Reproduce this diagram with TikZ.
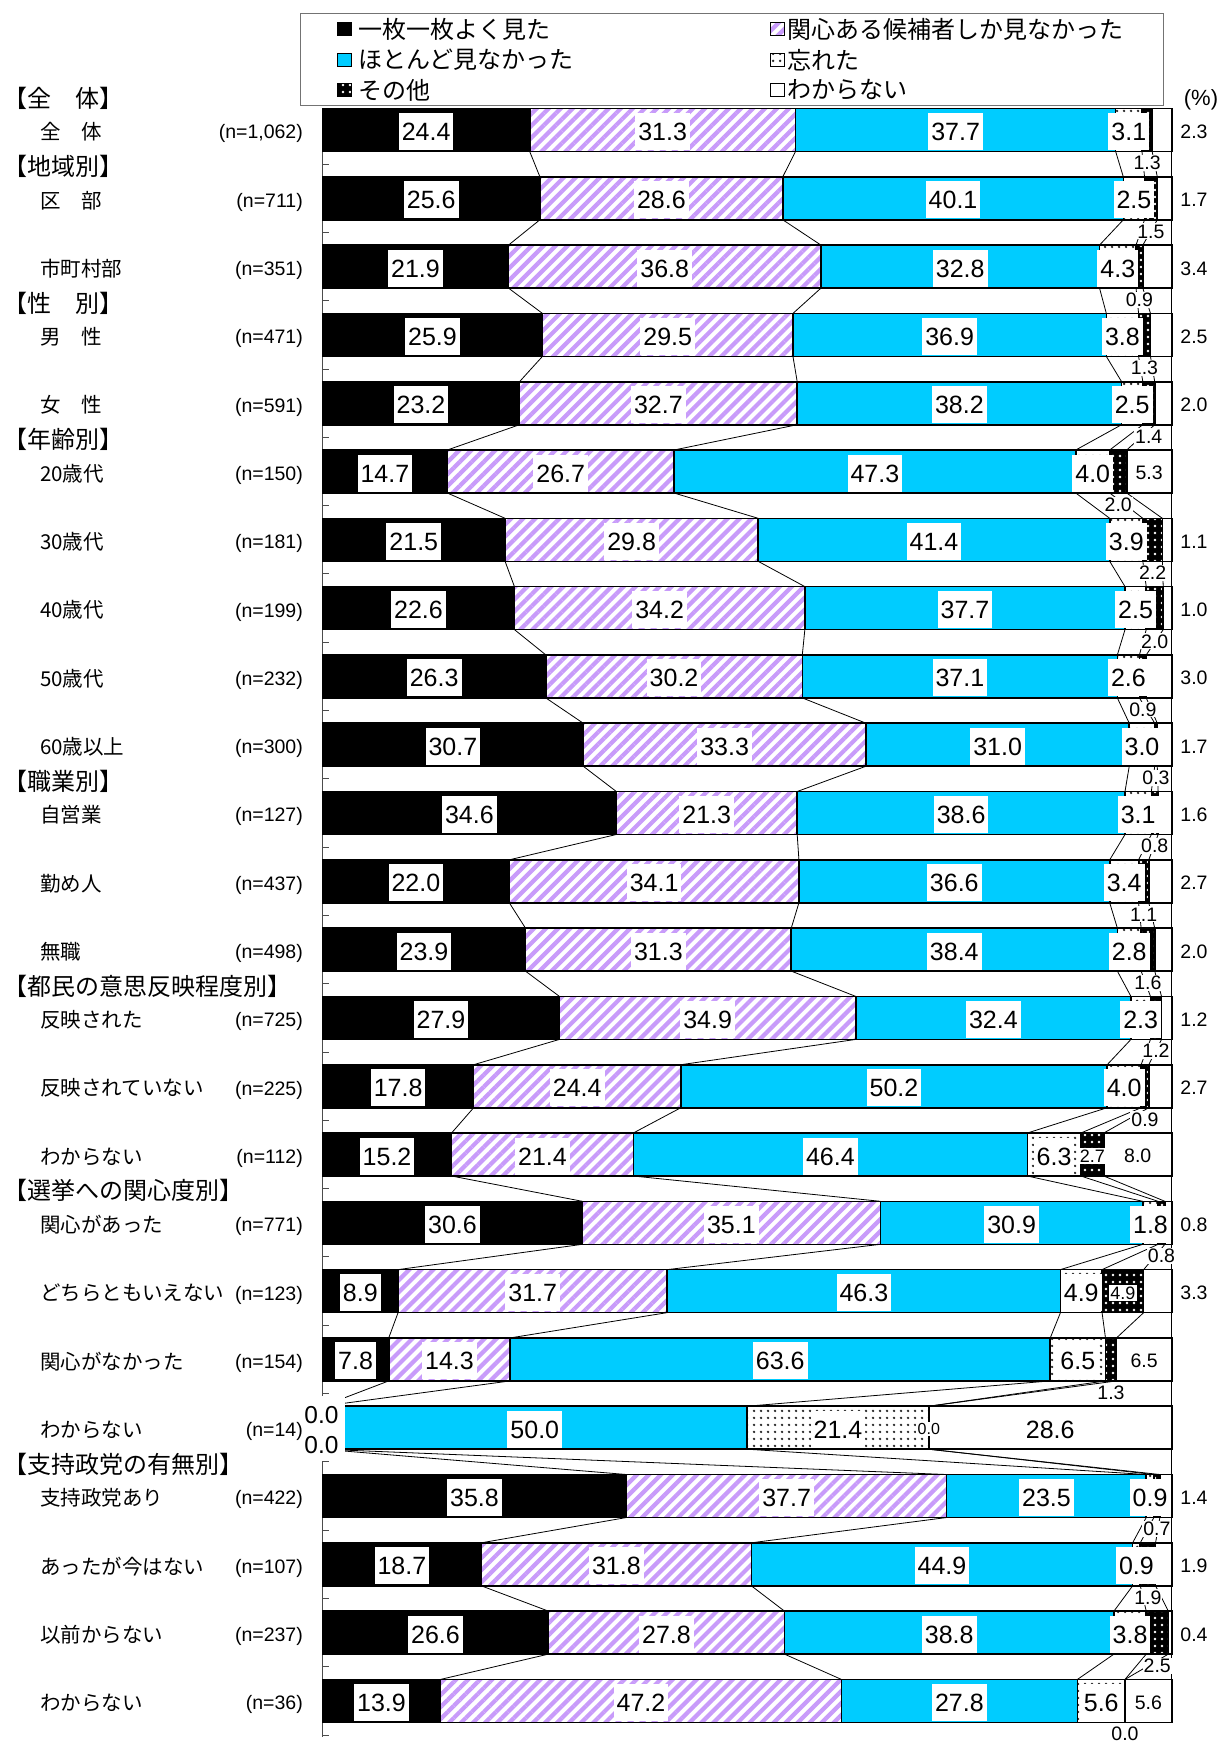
\documentclass[tikz,border=0pt]{standalone}
\usepackage{fontspec}
\setmainfont{Liberation Sans}
\newfontfamily\jp{Noto Sans CJK JP}
\usetikzlibrary{patterns.meta}
\definecolor{cyanbar}{HTML}{00CCFF}
\definecolor{stripe}{HTML}{C89BFA}
\def\chartdata{%
1/24.4/31.3/37.7/3.1/1.3/2.3/0/0,
2/25.6/28.6/40.1/2.5/1.5/1.7/0/0,
3/21.9/36.8/32.8/4.3/0.9/3.4/0/0,
4/25.9/29.5/36.9/3.8/1.3/2.5/0/0,
5/23.2/32.7/38.2/2.5/1.4/2.0/0/0,
6/14.7/26.7/47.3/4.0/2.0/5.3/0/1,
7/21.5/29.8/41.4/3.9/2.2/1.1/0/0,
8/22.6/34.2/37.7/2.5/2.0/1.0/0/0,
9/26.3/30.2/37.1/2.6/0.9/3.0/0/0,
10/30.7/33.3/31.0/3.0/0.3/1.7/0/0,
11/34.6/21.3/38.6/3.1/0.8/1.6/0/0,
12/22.0/34.1/36.6/3.4/1.1/2.7/0/0,
13/23.9/31.3/38.4/2.8/1.6/2.0/0/0,
14/27.9/34.9/32.4/2.3/1.2/1.2/0/0,
15/17.8/24.4/50.2/4.0/0.9/2.7/0/0,
16/15.2/21.4/46.4/6.3/2.7/8.0/1/1,
17/30.6/35.1/30.9/1.8/0.8/0.8/0/0,
18/8.9/31.7/46.3/4.9/4.9/3.3/1/0,
19/7.8/14.3/63.6/6.5/1.3/6.5/0/1,
20/0.0/0.0/50.0/21.4/0.0/28.6/2/2,
21/35.8/37.7/23.5/0.9/0.7/1.4/0/0,
22/18.7/31.8/44.9/0.9/1.9/1.9/0/0,
23/26.6/27.8/38.8/3.8/2.5/0.4/0/0,
24/13.9/47.2/27.8/5.6/0.0/5.6/0/1}
\def\rowlabels{%
1/全　体/{(n=1,062)},
2/区　部/(n=711),
3/市町村部/(n=351),
4/男　性/(n=471),
5/女　性/(n=591),
6/20歳代/(n=150),
7/30歳代/(n=181),
8/40歳代/(n=199),
9/50歳代/(n=232),
10/60歳以上/(n=300),
11/自営業/(n=127),
12/勤め人/(n=437),
13/無職/(n=498),
14/反映された/(n=725),
15/反映されていない/(n=225),
16/わからない/(n=112),
17/関心があった/(n=771),
18/どちらともいえない/(n=123),
19/関心がなかった/(n=154),
20/わからない/(n=14),
21/支持政党あり/(n=422),
22/あったが今はない/(n=107),
23/以前からない/(n=237),
24/わからない/(n=36)}
\begin{document}
\begin{tikzpicture}[x=1pt,y=-1pt,
  seg/.style={draw=black, line width=1.6pt},
  sA/.style={seg, fill=black},
  sB/.style={seg, preaction={fill=white}, pattern={Lines[angle=45,distance=8.5pt,line width=4.2pt]}, pattern color=stripe},
  sC/.style={seg, fill=cyanbar},
  sD/.style={seg, preaction={fill=white}, pattern={Dots[distance=6.5pt,radius=1.4pt]}, pattern color=black!85},
  sE/.style={seg, preaction={fill=black}, pattern={Dots[distance=7pt,radius=1.3pt]}, pattern color=white},
  sF/.style={seg, fill=white},
  conn/.style={draw=black, line width=0.8pt},
  vlab/.style={fill=white, inner xsep=3pt, inner ysep=0pt, minimum height=37pt, text height=18pt, text depth=0pt, font=\fontsize{25}{29}\selectfont},
  slab/.style={fill=white, inner sep=1.5pt, text height=13pt, text depth=0pt, font=\fontsize{18}{21}\selectfont},
  elab/.style={fill=white, inner sep=1pt, text height=13.8pt, text depth=0pt, font=\fontsize{19.5}{22}\selectfont},
  flab/.style={inner sep=0pt, text height=13.8pt, text depth=0pt, font=\fontsize{19.5}{22}\selectfont},
  zlab/.style={inner sep=0pt, text height=17.5pt, text depth=0pt, font=\fontsize{24.5}{28}\selectfont},
  rlab/.style={font=\jp\fontsize{20.5}{24}\selectfont, inner sep=0pt, anchor=west},
  hlab/.style={font=\jp\fontsize{24}{28}\selectfont, inner sep=0pt, anchor=west},
  nlab/.style={font=\fontsize{19.5}{22}\selectfont, inner sep=0pt, anchor=east, text height=13.8pt, text depth=0pt},
  ltxt/.style={font=\jp\fontsize{24}{28}\selectfont, inner sep=0pt, anchor=west},
  mk/.style={minimum width=14pt, minimum height=13pt, inner sep=0pt}
]
\useasboundingbox (0,0) rectangle (1219,1751);

% legend
\node[draw=black!55, line width=1pt, fill=white, minimum width=863pt, minimum height=92pt, anchor=north west, inner sep=0pt] (legend) at (300,12.5) {};
\node[mk, sA, line width=0.8pt] (m1) at (344,29) {};
\node[mk, sC, line width=0.8pt] (m2) at (344,60) {};
\node[mk, sE, line width=0.8pt] (m3) at (344,90) {};
\node[mk, sB, line width=0.8pt] (m4) at (777,29) {};
\node[mk, sD, line width=0.8pt] (m5) at (777,60) {};
\node[mk, sF, line width=0.8pt] (m6) at (777,90) {};
\node[ltxt] (l1) at (358,29) {一枚一枚よく見た};
\node[ltxt] (l2) at (358,60) {ほとんど見なかった};
\node[ltxt] (l3) at (358,90) {その他};
\node[ltxt] (l4) at (787,29) {関心ある候補者しか見なかった};
\node[ltxt] (l5) at (787,60) {忘れた};
\node[ltxt] (l6) at (787,90) {わからない};
\node[font=\fontsize{22}{26}\selectfont, inner sep=0pt] (pct) at (1201,100) {(\%)};

% coordinates of segment boundaries
\foreach \i/\va/\vb/\vc/\vd/\ve/\vf/\me/\mf in \chartdata {
  \pgfmathsetmacro\yc{130+68.3*(\i-1)}
  \pgfmathsetmacro\ca{\va}
  \pgfmathsetmacro\cb{\va+\vb}
  \pgfmathsetmacro\cc{\cb+\vc}
  \pgfmathsetmacro\cd{\cc+\vd}
  \pgfmathsetmacro\ce{max(\cd,100-\vf)}
  \foreach \k/\v in {0/0,1/\ca,2/\cb,3/\cc,4/\cd,5/\ce,6/100} {
    \coordinate (t\i-\k) at ({322.5+8.492*\v},{\yc-21.5});
    \coordinate (b\i-\k) at ({322.5+8.492*\v},{\yc+21.5});
  }
}

% axis and ticks
\coordinate (axtop) at (322.5,108.5);
\coordinate (axbot) at (322.5,1737);
\draw[black!70, line width=1pt] (axtop) -- (axbot);
\foreach \i in {1,...,24} {
  \pgfmathsetmacro\yt{130+68.3*(\i-1)+34.15}
  \draw[black!70, line width=1pt] (322.5,\yt) -- (328.5,\yt);
}

% connectors
\foreach \i in {1,...,23} {
  \pgfmathtruncatemacro\j{\i+1}
  \foreach \k in {1,...,6} {
    \draw[conn] (b\i-\k) -- (t\j-\k);
  }
}

% bars
\foreach \i in {1,...,24} {
  \draw[sA] (t\i-0) rectangle (b\i-1);
  \draw[sB] (t\i-1) rectangle (b\i-2);
  \draw[sC] (t\i-2) rectangle (b\i-3);
  \draw[sD] (t\i-3) rectangle (b\i-4);
  \draw[sE] (t\i-4) rectangle (b\i-5);
  \draw[sF] (t\i-5) rectangle (b\i-6);
}

% white cover at the start of the n=14 bar
\fill[white] (300,1396) rectangle (344.5,1461);

% value labels
\foreach \i/\va/\vb/\vc/\vd/\ve/\vf/\me/\mf in \chartdata {
  \pgfmathsetmacro\yc{130+68.3*(\i-1)+1.5}
  \pgfmathsetmacro\ca{\va}
  \pgfmathsetmacro\cb{\va+\vb}
  \pgfmathsetmacro\cc{\cb+\vc}
  \pgfmathsetmacro\cd{\cc+\vd}
  \pgfmathsetmacro\ce{max(\cd,100-\vf)}
  \pgfmathsetmacro\xa{322.5+8.492*\ca/2}
  \pgfmathsetmacro\xb{322.5+8.492*(\ca+\cb)/2}
  \pgfmathsetmacro\xc{322.5+8.492*(\cb+\cc)/2}
  \pgfmathsetmacro\xd{322.5+8.492*(\cc+\cd)/2}
  \pgfmathsetmacro\xe{322.5+8.492*(\cd+\ce)/2}
  \pgfmathsetmacro\xf{322.5+8.492*(\ce+100)/2}
  \pgfmathsetmacro\xbd{322.5+8.492*\cd}
  \pgfmathsetmacro\ybelow{130+68.3*(\i-1)+33}
  \ifdim\va pt>0pt \node[vlab] (va\i) at (\xa,\yc) {\va}; \fi
  \ifdim\vb pt>0pt \node[vlab] (vb\i) at (\xb,\yc) {\vb}; \fi
  \node[vlab] (vc\i) at (\xc,\yc) {\vc};
  \node[vlab] (vd\i) at (\xd,\yc) {\vd};
  \ifnum\me=0 \node[elab] (ve\i) at (\xe,\ybelow) {\ve}; \fi
  \ifnum\me=1 \node[slab] (ve\i) at (\xe,\yc) {\ve}; \fi
  \ifnum\me=2 \node[slab, font=\fontsize{16}{19}\selectfont, text height=11.5pt] (ve\i) at (\xbd,\yc) {\ve}; \fi
  \ifnum\mf=0 \node[flab] (vf\i) at (1194,\yc) {\vf}; \fi
  \ifnum\mf=1 \node[flab] (vf\i) at (\xf,\yc) {\vf}; \fi
  \ifnum\mf=2 \node[vlab, fill=none] (vf\i) at (\xf,\yc) {\vf}; \fi
}
% the two 0.0 labels at the left of the n=14 bar
\node[zlab] (z1) at (321.5,1415) {0.0};
\node[zlab] (z2) at (321.5,1445) {0.0};

% row labels
\foreach \i/\nm/\nn in \rowlabels {
  \pgfmathsetmacro\yc{130+68.3*(\i-1)+2}
  \node[rlab] (rl\i) at (40,\yc) {\nm};
  \node[nlab] (rn\i) at (303,\yc) {\nn};
}

% group headers
\foreach \i/\hd in {1/【全　体】,2/【地域別】,4/【性　別】,6/【年齢別】,11/【職業別】,14/【都民の意思反映程度別】,17/【選挙への関心度別】,21/【支持政党の有無別】} {
  \pgfmathsetmacro\yh{130+68.3*(\i-1)-32}
  \node[hlab] (hd\i) at (3,\yh) {\hd};
}
\end{tikzpicture}
\end{document}
